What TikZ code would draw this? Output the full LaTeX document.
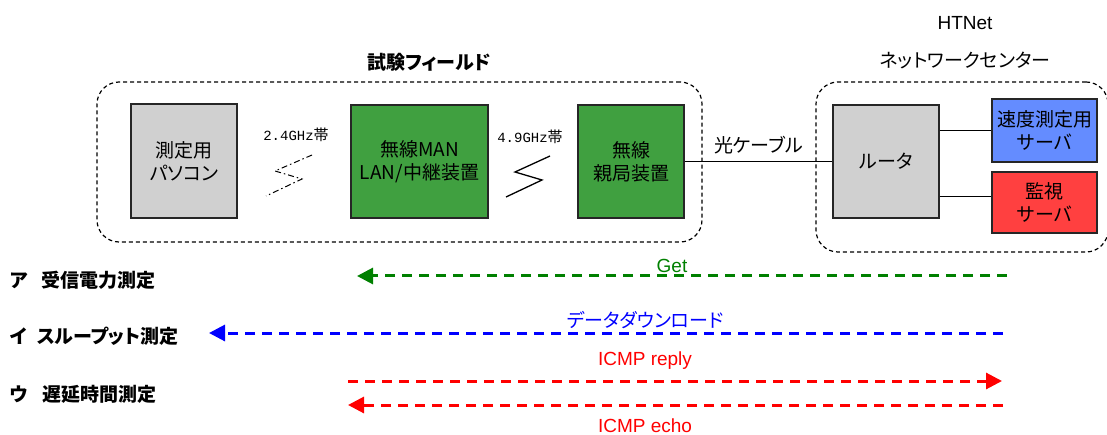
\documentclass[tikz,border=0pt]{standalone}
\usepackage{fontspec}
\setmainfont{Liberation Sans}
\newfontfamily\jp[RawFeature=+palt]{Noto Sans CJK JP}
\newfontfamily\bandmono{Liberation Mono}
\usetikzlibrary{arrows.meta}
\definecolor{boxgray}{RGB}{208,208,208}
\definecolor{boxgreen}{RGB}{64,160,64}
\definecolor{boxblue}{RGB}{100,140,255}
\definecolor{boxred}{RGB}{255,64,64}
\definecolor{arrgreen}{RGB}{0,128,0}
\begin{document}
\begin{tikzpicture}[x=1pt,y=-1pt,
  font=\jp\fontsize{19}{23}\selectfont,
  dev/.style={draw=black!85, line width=1.4pt, inner sep=0pt, align=center, fill=#1},
  area/.style={draw=black, line width=1.2pt, dash pattern=on 4pt off 3pt, rounded corners=22pt, inner sep=0pt},
  lat/.style={font=\normalfont\fontsize{19}{23}\selectfont},
  lbl/.style={font=\jp\bfseries\fontsize{19}{23}\selectfont, inner sep=0pt, anchor=west},
  band/.style={font=\jp\fontsize{15}{18}\selectfont},
  link/.style={draw=black, line width=1.2pt},
  msg/.style={line width=3pt, dash pattern=on 10pt off 7pt, -{Triangle[length=16pt,width=16pt]}}
]
\useasboundingbox (0,0) rectangle (1107,435);

% areas
\node[area, minimum width=605pt, minimum height=160pt] (field) at (399.5,162) {};
\node[area, minimum width=292pt, minimum height=170pt] (center) at (962,167) {};
\node[font=\jp\bfseries\fontsize{19}{23}\selectfont] (fieldt) at (429,62) {試験フィールド};
\node[lat] (htnet) at (965,23) {HTNet};
\node (centert) at (965,60) {ネットワークセンター};

% devices
\node[dev=boxgray, minimum width=106pt, minimum height=114pt] (pc) at (184,161) {測定用\\パソコン};
\node[dev=boxgreen, minimum width=137pt, minimum height=113pt] (man) at (419.5,161.5) {無線MAN\\LAN/中継装置};
\node[dev=boxgreen, minimum width=106pt, minimum height=113pt] (base) at (631,161.5) {無線\\親局装置};
\node[dev=boxgray, minimum width=106pt, minimum height=113pt] (router) at (886,161.5) {ルータ};
\node[dev=boxblue, minimum width=105pt, minimum height=63pt] (speed) at (1044.5,130.5) {速度測定用\\サーバ};
\node[dev=boxred, minimum width=105pt, minimum height=61pt] (mon) at (1044.5,202.5) {監視\\サーバ};

% wireless links
\node[band] (b24) at (296,135) {{\bandmono\fontsize{14}{18}\selectfont 2.4GHz}帯};
\node[band] (b49) at (530,137) {{\bandmono\fontsize{14}{18}\selectfont 4.9GHz}帯};
\draw[line width=1pt, dash pattern=on 6pt off 3pt on 1.5pt off 3pt] (312,155) -- (275,171) -- (302,179) -- (266,196);
\draw[line width=1.3pt] (550,156) -- (515,172) -- (542,180) -- (506,197);

% wired links
\draw[link] (base.east) -- (router.west) node[pos=0.5, above=4pt] (cable) {光ケーブル};
\draw[link] (router.east |- speed.west) -- (speed.west);
\draw[link] ([yshift=6pt]router.east |- mon.west) -- ([yshift=6pt]mon.west);

% measurement labels
\node[lbl] (la) at (10,280) {ア\hspace{14pt}受信電力測定};
\node[lbl] (li) at (10,336) {イ\hspace{10pt}スループット測定};
\node[lbl] (lu) at (10,394) {ウ\hspace{14pt}遅延時間測定};

% messages
\coordinate (g1) at (1007,276); \coordinate (g2) at (357,276);
\coordinate (d1) at (1003,333); \coordinate (d2) at (209,333);
\coordinate (r1) at (348,381); \coordinate (r2) at (1002,381);
\coordinate (e1) at (1003,405); \coordinate (e2) at (348,405);
\draw[msg, arrgreen] (g1) -- (g2);
\draw[msg, blue] (d1) -- (d2);
\draw[msg, red] (r1) -- (r2);
\draw[msg, red] (e1) -- (e2);
\node[lat, text=arrgreen] (get) at (672,266) {Get};
\node[text=blue] (dl) at (645,320) {データダウンロード};
\node[lat, text=red] (rep) at (645,361) {ICMP reply};
\node[lat, text=red] (echo) at (645,426) {ICMP echo};
\end{tikzpicture}
\end{document}
